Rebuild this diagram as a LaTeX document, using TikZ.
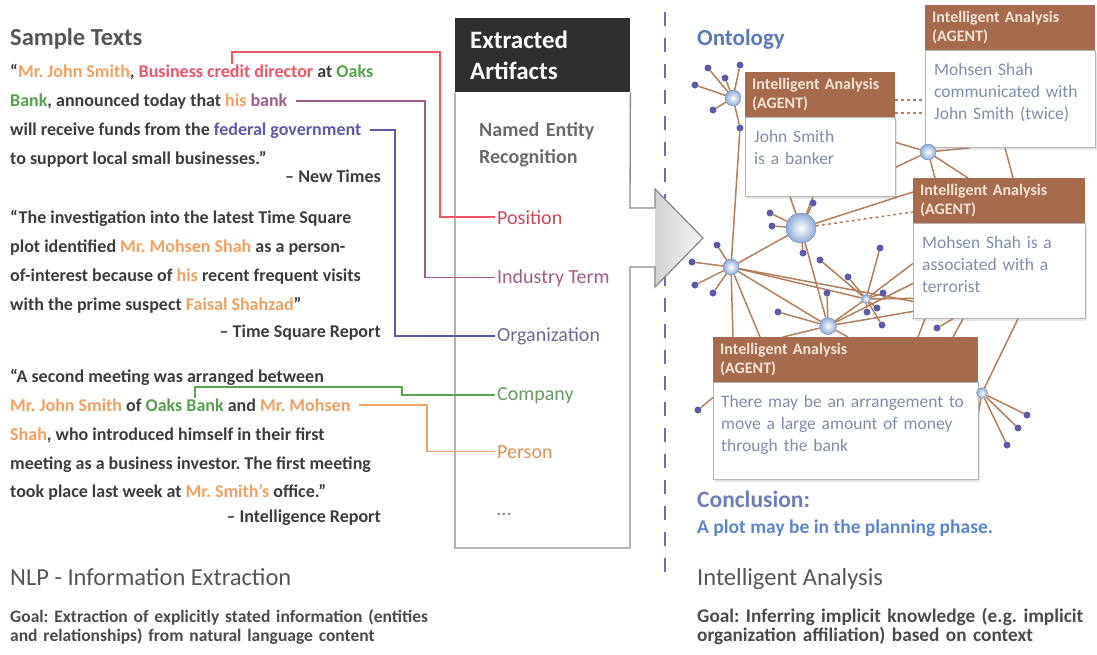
\documentclass[tikz,border=0pt]{standalone}
\usepackage{fontspec}
\setmainfont{Carlito}
\usetikzlibrary{positioning,calc,shadows}
\definecolor{darktext}{HTML}{3C3C3C}
\definecolor{perorange}{HTML}{EFA062}
\definecolor{posred}{HTML}{EA5567}
\definecolor{orggreen}{HTML}{55A04E}
\definecolor{indmauve}{HTML}{A25A88}
\definecolor{govblue}{HTML}{5A5AA6}
\definecolor{comgreen}{HTML}{5AA552}
\definecolor{titlegray}{HTML}{555555}
\definecolor{goalgray}{HTML}{4A4A4A}
\definecolor{nergray}{HTML}{6A6A6A}
\definecolor{artdark}{HTML}{2F2F2F}
\definecolor{artline}{HTML}{8A8A8A}
\definecolor{agentbrown}{HTML}{A66B4C}
\definecolor{agenttext}{HTML}{F3E4D8}
\definecolor{agentblue}{HTML}{7F8DA8}
\definecolor{boxgray}{HTML}{B4B4B4}
\definecolor{linkbrown}{HTML}{B27E5C}
\definecolor{dotblue}{HTML}{5B5BAA}
\definecolor{hubblue}{HTML}{8FAAD6}
\definecolor{sepblue}{HTML}{6B6BC4}
\definecolor{ontblue}{HTML}{5A78B8}
\definecolor{conblue}{HTML}{6D7DBE}
\definecolor{plotblue}{HTML}{5C84CC}
\pgfdeclarelayer{bg}
\pgfsetlayers{bg,main}
\newcommand\hlper[1]{\textcolor{perorange}{#1}}
\newcommand\hlpos[1]{\textcolor{posred}{#1}}
\newcommand\hlorg[1]{\textcolor{orggreen}{#1}}
\newcommand\hlind[1]{\textcolor{indmauve}{#1}}
\newcommand\hlgov[1]{\textcolor{govblue}{#1}}
\frenchspacing
\begin{document}
\begin{tikzpicture}[
  x=1pt,y=-1pt,
  heading/.style={anchor=base west,inner sep=0pt,font=\fontsize{24.5}{29}\selectfont,text=titlegray},
  sample/.style={anchor=base west,inner sep=0pt,font=\bfseries\fontsize{18}{29}\selectfont,text=darktext},
  source/.style={sample,anchor=base east},
  goal/.style={anchor=base west,inner sep=0pt,align=left,text width=440pt,font=\bfseries\fontsize{17.5}{19}\selectfont,text=goalgray},
  arthead/.style={anchor=north west,fill=artdark,text=white,minimum width=175pt,minimum height=74pt,text width=145pt,inner xsep=15pt,align=left,font=\bfseries\fontsize{25}{31}\selectfont},
  artifact/.style={anchor=base west,inner sep=2pt,font=\fontsize{20}{24}\selectfont},
  feed/.style={line width=1.6pt},
  agenthead/.style={anchor=north west,fill=agentbrown,text=agenttext,minimum height=45pt,inner xsep=7pt,inner ysep=0pt,align=left,font=\bfseries\fontsize{16}{19}\selectfont},
  agentbody/.style={draw=boxgray,fill=white,text=agentblue,inner xsep=9pt,inner ysep=0pt,align=left,text height=25pt,
    drop shadow={opacity=.2,shadow xshift=2pt,shadow yshift=-2pt},font=\fontsize{17.5}{22}\selectfont},
  netlink/.style={draw=linkbrown,line width=1.5pt},
  netdot/.style={circle,fill=dotblue,inner sep=0pt,minimum size=7pt},
  hub/.style={circle,inner color=white,outer color=hubblue,draw=hubblue!80!black,line width=.4pt,inner sep=0pt}
]
\useasboundingbox (0,0) rectangle (1097,654);
% sample texts
\node[heading,font=\bfseries\fontsize{24.5}{29}\selectfont] (samp) at (10,45) {Sample Texts};
\node[sample] (s1a) at (10,77) {“\hlper{Mr. John Smith}, \hlpos{Business credit director} at \hlorg{Oaks}};
\node[sample] (s1b) at (10,106) {\hlorg{Bank}, announced today that \hlper{his} \hlind{bank}};
\node[sample] (s1c) at (10,135) {will receive funds from the \hlgov{federal government}};
\node[sample] (s1d) at (10,164) {to support local small businesses.”};
\node[source] (s1e) at (381,182) {– New Times};
\node[sample] (s2a) at (10,223) {“The investigation into the latest Time Square};
\node[sample] (s2b) at (10,252) {plot identified \hlper{Mr. Mohsen Shah} as a person-};
\node[sample] (s2c) at (10,281) {of-interest because of \hlper{his} recent frequent visits};
\node[sample] (s2d) at (10,310) {with the prime suspect \hlper{Faisal Shahzad}”};
\node[source] (s2e) at (381,337) {– Time Square Report};
\node[sample] (s3a) at (10,382) {“A second meeting was arranged between};
\node[sample] (s3b) at (10,411) {\hlper{Mr. John Smith} of \hlorg{Oaks Bank} and \hlper{Mr. Mohsen}};
\node[sample] (s3c) at (10,440) {\hlper{Shah}, who introduced himself in their first};
\node[sample] (s3d) at (10,469) {meeting as a business investor. The first meeting};
\node[sample] (s3e) at (10,497) {took place last week at \hlper{Mr. Smith’s} office.”};
\node[source] (s3f) at (381,522) {– Intelligence Report};
\node[heading] (nlp) at (10,585) {NLP - Information Extraction};
\node[goal] (nlpgoal) at (10,622) {Goal: Extraction of explicitly stated information (entities\\and relationships) from natural language content};
% extracted artifacts
\draw[sepblue,line width=1.6pt,dash pattern=on 14pt off 12pt] (665,12) -- (665,582);
\node[arthead] (arth) at (455,18) {Extracted\\Artifacts};
\fill[white] (630,208) rectangle (655,267);
\shade[left color=gray!35,right color=gray!8] (655,189) -- (703,238) -- (655,287) -- cycle;
\draw[artline,line width=1.3pt] (arth.south west) -- (455,548) -- (630,548) -- (630,267) -- (655,267) -- (655,287)
  -- (703,238) -- (655,189) -- (655,208) -- (630,208) -- (arth.south east);
\node[anchor=base west,inner sep=0pt,align=left,text width=140pt,text=nergray,font=\bfseries\fontsize{20}{27}\selectfont] (ner) at (479,136) {Named Entity\\Recognition};
\node[artifact,text=posred!85!black] (pos) at (495,224) {Position};
\node[artifact,text=indmauve] (ind) at (495,283) {Industry Term};
\node[artifact,text=govblue!60!gray] (org) at (495,341) {Organization};
\node[artifact,text=comgreen!70!gray] (com) at (495,400) {Company};
\node[artifact,text=perorange!90!black] (per) at (495,458) {Person};
\node[artifact,text=gray] (more) at (495,515) {\dots};
\coordinate (posfrom) at (232,64);
\coordinate (comfrom) at (195,398);
\draw[feed,posred] (posfrom) -- ++(0,-12) -| ([xshift=-55pt]pos.west) -- (pos.west);
\draw[feed,indmauve] ([xshift=8pt]s1b.east) -| ([xshift=-70pt]ind.west) -- (ind.west);
\draw[feed,govblue] ([xshift=8pt]s1c.east) -| ([xshift=-100pt]org.west) -- (org.west);
\draw[feed,comgreen] (comfrom) -- ++(0,-11) -| ([xshift=-93pt]com.west) -- (com.west);
\draw[feed,perorange] ([xshift=8pt]s3b.east) -| ([xshift=-68pt]per.west) -- (per.west);
% ontology
\node[heading,text=ontblue,font=\bfseries\fontsize{23}{29}\selectfont] (onto) at (697,45) {Ontology};
\node[agenthead,text width=136pt] (aAh) at (745,72) {Intelligent Analysis\\(AGENT)};
\node[agentbody,below=0pt of aAh,text width=132pt,text depth=54pt] (aAb) {John Smith\\is a banker};
\node[agenthead,text width=156pt] (aBh) at (925,5) {Intelligent Analysis\\(AGENT)};
\node[agentbody,below=0pt of aBh,text width=152pt,text depth=72pt] (aBb) {Mohsen Shah\\communicated with\\John Smith (twice)};
\node[agenthead,text width=158pt] (aCh) at (913,178) {Intelligent Analysis\\(AGENT)};
\node[agentbody,below=0pt of aCh,text width=154pt,text depth=70pt] (aCb) {Mohsen Shah is a\\associated with a\\terrorist};
\node[agenthead,text width=251pt] (aDh) at (713,337) {Intelligent Analysis\\(AGENT)};
\node[agentbody,below=0pt of aDh,inner xsep=8pt,text width=249pt,text depth=72pt] (aDb) {There may be an arrangement to\\move a large amount of money\\through the bank};
\node[hub,minimum size=16pt] (h1) at (733,98) {};
\node[hub,minimum size=30pt] (h2) at (801,228) {};
\node[hub,minimum size=16pt] (h3) at (731,267) {};
\node[hub,minimum size=17pt] (h4) at (828,326) {};
\node[hub,minimum size=9pt] (h5) at (866,299) {};
\node[hub,minimum size=16pt] (h6) at (928,152) {};
\node[hub,minimum size=11pt] (h7) at (982,393) {};
\foreach \p [count=\i] in {(708,68),(740,65),(725,78),(695,85),(713,110),(740,128)}
  \node[netdot] (d1\i) at \p {};
\foreach \p [count=\i] in {(770,213),(772,226),(813,203),(803,253)}
  \node[netdot] (d2\i) at \p {};
\foreach \p [count=\i] in {(717,245),(692,262),(695,285),(713,293)}
  \node[netdot] (d3\i) at \p {};
\foreach \p [count=\i] in {(778,312),(827,293)}
  \node[netdot] (d4\i) at \p {};
\foreach \p [count=\i] in {(820,260),(848,277),(880,248),(883,293),(877,308),(867,312),(882,325)}
  \node[netdot] (d5\i) at \p {};
\foreach \p [count=\i] in {(1027,415),(1018,428),(1007,445)}
  \node[netdot] (d7\i) at \p {};
\node[netdot] (dC) at (937,328) {};
\node[netdot] (dD) at (698,410) {};
\begin{pgfonlayer}{bg}
\foreach \i in {1,...,6} \draw[netlink] (h1) -- (d1\i);
\foreach \i in {1,...,4} \draw[netlink] (h2) -- (d2\i);
\foreach \i in {1,...,4} \draw[netlink] (h3) -- (d3\i);
\foreach \i in {1,2} \draw[netlink] (h4) -- (d4\i);
\foreach \i in {1,...,7} \draw[netlink] (h5) -- (d5\i);
\foreach \i in {1,2,3} \draw[netlink] (h7) -- (d7\i);
\draw[netlink] (d16) -- (h3) -- ([xshift=20pt]aDh.north west);
\draw[netlink] (h2) -- ([xshift=45pt]aAb.south west);
\draw[netlink] (h2) -- ([xshift=68pt]aAb.south west);
\draw[netlink] (h2) -- ([yshift=-14pt]aCh.north west);
\draw[netlink,dashed] (h2) -- ([yshift=-34pt]aCh.north west);
\draw[netlink] (h2) -- (h3);
\draw[netlink] (h2) -- (h4);
\draw[netlink] (h3) -- (h4);
\draw[netlink] (h3) -- (h5);
\draw[netlink] (h3) -- ([xshift=47pt]aDh.north west);
\draw[netlink] (h3) -- ([yshift=-78pt]aCb.north west);
\draw[netlink] (h4) -- (h5);
\draw[netlink] (h4) -- ([yshift=-60pt]aCb.north west);
\draw[netlink] (h4) -- ([yshift=-88pt]aCb.north west);
\draw[netlink] (h4) -- ([xshift=70pt]aDh.north west);
\draw[netlink] (h4) -- ([xshift=135pt]aDh.north west);
\draw[netlink] (h5) -- ([yshift=-40pt]aCb.north west);
\draw[netlink] (h5) -- ([yshift=-75pt]aCb.north west);
\draw[netlink] (h6) -- ([yshift=-25pt]aAb.north east);
\draw[netlink] (h6) -- ([yshift=-50pt]aAb.north east);
\draw[netlink] (h6) -- ([xshift=22pt]aCh.north west);
\draw[netlink] (h6) -- ([xshift=55pt]aCh.north west);
\draw[netlink] (h6) -- ([xshift=45pt]aBb.south west);
\draw[netlink] ([xshift=80pt]aBb.south west) -- ([xshift=100pt]aCh.north west);
\draw[netlink] (h7) -- ([xshift=105pt]aCb.south west);
\draw[netlink] (h7) -- ([yshift=-10pt]aDb.north east);
\draw[netlink] (h7) -- ([yshift=-30pt]aDb.north east);
\draw[netlink] (dD) -- ([yshift=-15pt]aDb.north west);
\draw[netlink] ([xshift=12pt]aCb.south west) -- ([xshift=205pt]aDh.north west);
\draw[netlink] (dC) -- ([xshift=40pt]aCb.south west);
\draw[netlink] ([xshift=50pt]aCb.south west) -- ([xshift=240pt]aDh.north west);
\draw[netlink,dashed] ([yshift=-28pt]aAh.north east) -- ++(34,0);
\draw[netlink,dashed] ([yshift=-41pt]aAh.north east) -- ++(34,0);
\end{pgfonlayer}
% conclusion and goal
\node[heading,text=conblue,font=\bfseries\fontsize{23.5}{29}\selectfont] (concl) at (697,507) {Conclusion:};
\node[anchor=base west,inner sep=0pt,text=plotblue,font=\bfseries\fontsize{19.5}{24}\selectfont] (plot) at (697,533) {A plot may be in the planning phase.};
\node[heading] (ia) at (697,585) {Intelligent Analysis};
\node[goal,text width=400pt,font=\bfseries\fontsize{19.3}{19}\selectfont] (iagoal) at (697,622) {Goal: Inferring implicit knowledge (e.g. implicit\\organization affiliation) based on context};
\end{tikzpicture}
\end{document}
